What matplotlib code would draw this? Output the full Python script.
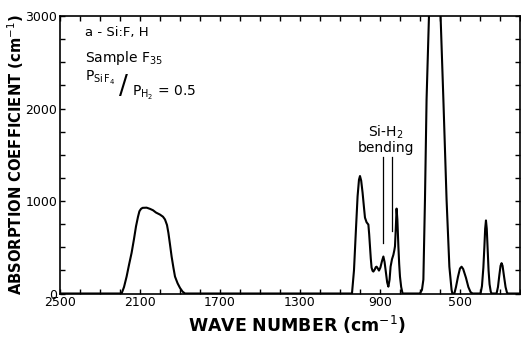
import matplotlib
matplotlib.use("Agg")
import matplotlib.pyplot as plt
from matplotlib.ticker import MultipleLocator

wavenumber = [
    2500, 2192, 2180, 2167, 2155, 2142, 2130, 2120, 2110, 2103, 2095, 2087,
    2067, 2050, 2035, 2020, 2000, 1985, 1975, 1965, 1958, 1950, 1942, 1933,
    1925, 1912, 1900, 1887, 1875,
    1040, 1030, 1020, 1012, 1005, 1000, 994, 987, 980, 975, 967, 958, 954,
    950, 946, 942, 937, 933, 926, 921, 917, 912, 905, 898, 890, 883, 877,
    870, 864, 858, 852, 847, 840, 833, 828, 825, 821, 817, 813, 808, 804,
    800, 794, 787,
    700, 690, 683, 675, 667, 655, 628, 597, 583, 567, 553, 542, 538,
    528, 520, 510, 500, 492, 484, 470, 458, 447, 437,
    397, 390, 383, 378, 374, 370, 366, 362, 357, 352, 346, 342,
    317, 310, 303, 297, 292, 287, 280, 272, 265, 260, 200,
]
absorption = [
    0, 0, 70, 183, 310, 440, 590, 726, 830, 889, 915, 926,
    928, 915, 900, 875, 853, 830, 800, 740, 655, 530, 400, 280,
    183, 110, 60, 20, 0,
    0, 250, 700, 1050, 1230, 1270, 1220, 1090, 930, 820, 770, 745, 640,
    510, 380, 280, 245, 237, 260, 285, 290, 275, 248, 280, 350, 400, 340,
    222, 120, 74, 150, 290, 370, 418, 470, 510, 700, 918, 800, 510, 320,
    183, 70, 0,
    0, 40, 150, 1015, 2100, 3000, 5000, 3000, 2100, 1015, 290, 40, 0,
    0, 70, 180, 270, 290, 265, 170, 70, 15, 0,
    0, 80, 280, 500, 700, 790, 700, 500, 250, 100, 20, 0,
    0, 70, 200, 300, 328, 300, 190, 70, 10, 0, 0,
]

# marcadores Si-H2 (bending)
marker_x = [883, 842]
marker_bottom = [546, 672]
marker_top = 1480

xticks = [2500, 2100, 1700, 1300, 900, 500]
yticks = [0, 1000, 2000, 3000]

fig = plt.figure(figsize=(5.21, 3.39), dpi=100)
ax = fig.add_axes([0.1152, 0.1342, 0.8828, 0.8186])

ax.plot(wavenumber, absorption, color='black', linewidth=1.5)
for xm, yb in zip(marker_x, marker_bottom):
    ax.plot([xm, xm], [yb, marker_top], color='black', linewidth=0.9)

ax.set_xlim(2500, 200)
ax.set_ylim(0, 3000)
ax.set_xticks(xticks)
ax.set_yticks(yticks)
ax.xaxis.set_minor_locator(MultipleLocator(100))
ax.yaxis.set_minor_locator(MultipleLocator(250))
ax.tick_params(which='both', direction='in', top=True, right=True,
               length=3.5, width=1.0, labelsize=9, pad=2)
for s in ax.spines.values():
    s.set_linewidth(1.2)

ax.set_xlabel('WAVE NUMBER (cm$^{-1}$)', fontsize=12.5, fontweight='bold')
ax.xaxis.set_label_coords(0.515, -0.074)
ax.set_ylabel('ABSORPTION COEFFICIENT (cm$^{-1}$)', fontsize=10.6,
              fontweight='bold')
ax.yaxis.set_label_coords(-0.074, 0.5)

ax.text(0.054, 0.939, 'a - Si:F, H', transform=ax.transAxes, fontsize=9.5,
        va='center')
ax.text(0.054, 0.849, 'Sample F$_{35}$', transform=ax.transAxes, fontsize=10,
        va='center')
ax.text(0.054, 0.775, 'P$_{\\mathrm{Si\\,F_4}}$', transform=ax.transAxes,
        fontsize=10, va='center')
ax.text(0.138, 0.745, '/', transform=ax.transAxes, fontsize=19,
        ha='center', va='center')
ax.text(0.1565, 0.722, 'P$_{\\mathrm{H_2}}$ = 0.5', transform=ax.transAxes,
        fontsize=10, va='center')

ax.text(870, 1500, 'Si-H$_2$\nbending', ha='center', va='bottom',
        fontsize=10, linespacing=1.0)

fig.savefig('out.png', dpi=100)
